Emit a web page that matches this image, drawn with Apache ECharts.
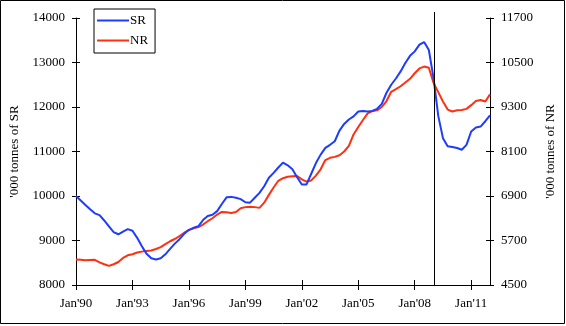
<!DOCTYPE html>
<html><head><meta charset="utf-8">
<script src="https://cdn.jsdelivr.net/npm/echarts@6/dist/echarts.min.js"></script>
<style>html,body{margin:0;padding:0;background:#fff}#c{width:566px;height:326px}</style>
</head><body><div id="c"></div>
<script>
// Quarterly categories, Jan'90 .. Jan'12
const months = ["Jan", "Apr", "Jul", "Oct"];
const categories = [];
for (let y = 1990; y <= 2012; y++) {
  for (const m of months) {
    if (y === 2012 && m !== "Jan") break;
    categories.push(m + "'" + String(y).slice(2));
  }
}
const markerCategory = "Jan'09";

// '000 tonnes of SR (left axis)
const srValues = [
  10000, 9900, 9800, 9700, 9610, 9570, 9450, 9320, 9190, 9140, 9200, 9255,
  9220, 9060, 8870, 8700, 8600, 8575, 8600, 8690, 8810, 8930, 9030, 9150,
  9240, 9285, 9320, 9460, 9550, 9580, 9660, 9820, 9970, 9980, 9960, 9930,
  9860, 9850, 9960, 10070, 10220, 10410, 10520, 10640, 10750, 10690, 10600, 10420,
  10260, 10260, 10500, 10740, 10930, 11080, 11150, 11230, 11470, 11620, 11720, 11790,
  11900, 11910, 11900, 11910, 11960, 12070, 12320, 12500, 12640, 12800, 12990, 13150,
  13250, 13400, 13460, 13280, 12650, 11800, 11300, 11120, 11100, 11080, 11040, 11150,
  11450, 11540, 11560, 11680, 11810
];
// '000 tonnes of NR (right axis)
const nrValues = [
  5190, 5180, 5170, 5175, 5180, 5110, 5060, 5015, 5060, 5120, 5230, 5300,
  5330, 5375, 5400, 5420, 5430, 5470, 5520, 5600, 5680, 5740, 5820, 5910,
  5980, 6030, 6060, 6130, 6220, 6300, 6400, 6470, 6460, 6440, 6470, 6570,
  6600, 6610, 6600, 6580, 6720, 6930, 7130, 7310, 7380, 7420, 7430, 7440,
  7350, 7290, 7320, 7450, 7620, 7870, 7930, 7955, 8000, 8100, 8250, 8560,
  8760, 8950, 9130, 9190, 9210, 9300, 9460, 9710, 9780, 9860, 9960, 10060,
  10210, 10340, 10390, 10360, 9950, 9700, 9450, 9230, 9180, 9210, 9220, 9250,
  9350, 9460, 9490, 9450, 9640
];
const leftTicks = { min: 8000, max: 14000, interval: 1000 };
const rightTicks = { min: 4500, max: 11700, interval: 1200 };

const FONT = "'Liberation Serif', 'DejaVu Serif', serif";
const txt = { color: "#000", fontFamily: FONT, fontSize: 13 };
const lbl = (i) => i % 12 === 0;

const chart = echarts.init(document.getElementById("c"), null, { renderer: "canvas" });
const baseY = (pos, inside, withLabels, extra) => ({
  type: "value", position: pos, min: extra.min, max: extra.max, interval: extra.interval,
  splitLine: { show: false },
  axisLine: { show: withLabels, lineStyle: { color: "#000", width: 1 } },
  axisTick: { show: true, inside: inside, length: 4, lineStyle: { color: "#000" } },
  axisLabel: { show: withLabels, margin: 11, formatter: (v) => String(v), ...txt }
});

chart.setOption({
  animation: false,
  backgroundColor: "#fff",
  grid: { left: 73, right: 76, top: 18, bottom: 41, containLabel: false },
  legend: {
    left: 94, top: 9, orient: "vertical",
    data: ["SR", "NR"],
    icon: "rect", itemWidth: 32, itemHeight: 2, itemGap: 7,
    padding: [5, 7, 6, 3],
    borderColor: "#000", borderWidth: 1,
    textStyle: { ...txt, padding: [0, 0, 0, -4] }
  },
  xAxis: [
    {
      type: "category", data: categories, boundaryGap: false, position: "bottom",
      axisLine: { lineStyle: { color: "#000" } },
      axisTick: { length: 5, interval: lbl, lineStyle: { color: "#000" } },
      axisLabel: { interval: lbl, margin: 12, ...txt }
    },
    {
      type: "category", data: categories, boundaryGap: false, position: "bottom",
      axisLine: { show: false },
      axisTick: { inside: true, length: 5, interval: lbl, lineStyle: { color: "#000" } },
      axisLabel: { show: false }
    }
  ],
  yAxis: [
    Object.assign(baseY("left", false, true, leftTicks), {
      name: "'000 tonnes of SR", nameLocation: "middle", nameRotate: 90, nameGap: 55, nameTextStyle: txt
    }),
    Object.assign(baseY("right", false, true, rightTicks), {
      name: "'000 tonnes of NR", nameLocation: "middle", nameRotate: 90, nameGap: 52, nameTextStyle: txt
    }),
    baseY("left", true, false, leftTicks),
    baseY("right", true, false, rightTicks)
  ],
  series: [
    {
      name: "SR", type: "line", data: srValues, xAxisIndex: 0, yAxisIndex: 0,
      symbol: "none", smooth: false, z: 3,
      lineStyle: { color: "#1e3cff", width: 2 }, itemStyle: { color: "#1e3cff" }
    },
    {
      name: "NR", type: "line", data: nrValues, xAxisIndex: 0, yAxisIndex: 1,
      symbol: "none", smooth: false, z: 2,
      lineStyle: { color: "#ff3010", width: 2 }, itemStyle: { color: "#ff3010" }
    }
  ]
});

const mx = Math.round(chart.convertToPixel({ xAxisIndex: 0 }, markerCategory)) + 0.5;
const yBottom = chart.convertToPixel({ yAxisIndex: 0 }, leftTicks.min);
chart.setOption({
  graphic: [
    { type: "line", shape: { x1: mx, y1: 12, x2: mx, y2: yBottom }, style: { stroke: "#000", lineWidth: 1 }, z: 10 },
    { type: "rect", shape: { x: 0.5, y: 0.5, width: 564, height: 323 }, style: { fill: null, stroke: "#000", lineWidth: 1 }, z: 10 }
  ]
});
</script></body></html>
